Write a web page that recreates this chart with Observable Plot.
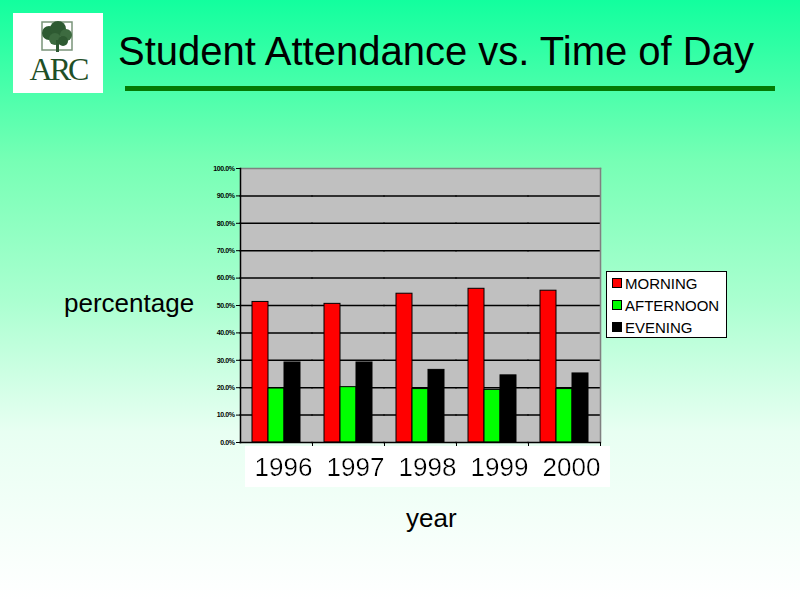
<!DOCTYPE html>
<html>
<head>
<meta charset="utf-8">
<script src="https://cdn.jsdelivr.net/npm/d3@7"></script>
<script src="https://cdn.jsdelivr.net/npm/@observablehq/plot@0.6"></script>
<style>
  html, body { margin: 0; padding: 0; }
  #slide {
    position: relative; width: 800px; height: 600px; overflow: hidden;
    background: linear-gradient(to bottom, #12ff9e 0%, #77ffb5 27%, #aaffd0 50%, #e8fff2 72%, #ffffff 100%);
    font-family: "Liberation Sans", Arial, sans-serif;
  }
  #logo { position: absolute; left: 13px; top: 13px; width: 90px; height: 80px; background: #fff; }
  #title { position: absolute; left: 118px; top: 27px; font-size: 40px; color: #000; white-space: nowrap; line-height: 48px; }
  #rule { position: absolute; left: 125px; top: 86px; width: 650px; height: 5px; background: #047a04; }
  #chart { position: absolute; left: 0; top: 0; }
  #ylabel { position: absolute; left: 64px; top: 287px; font-size: 26px; line-height: 32px; }
  #xlabel { position: absolute; left: 406px; top: 502px; font-size: 26px; line-height: 32px; }
  #legend { position: absolute; left: 606px; top: 271px; width: 119px; height: 65px; background: #fff; border: 1px solid #000; }
  #legend .item { position: absolute; left: 5px; height: 20px; font-size: 15px; line-height: 20px; white-space: nowrap; }
  #legend .sw { display: inline-block; width: 8px; height: 8px; border: 1px solid #000; margin-right: 3px; vertical-align: 1px; }
  [aria-label="fx-axis tick label"] text { filter: url(#wb); }
  [aria-label="y-axis tick label"] text { letter-spacing: -0.4px; font-weight: bold; }
</style>
</head>
<body>
<svg width="0" height="0" style="position:absolute">
  <defs>
    <filter id="wb" x="-0.15" y="-0.17" width="1.3" height="1.32">
      <feFlood flood-color="#ffffff"/>
      <feComposite in="SourceGraphic" operator="over"/>
    </filter>
  </defs>
</svg>
<div id="slide">
  <div id="logo">
    <svg width="90" height="80" viewBox="0 0 90 80">
      <rect x="29" y="9" width="30" height="28" fill="none" stroke="#7a947a" stroke-width="1.5"/>
      <circle cx="36" cy="20" r="7" fill="#2e5a32"/>
      <circle cx="45" cy="16" r="8" fill="#2e5a32"/>
      <circle cx="53" cy="22" r="6" fill="#3d6b40"/>
      <circle cx="42" cy="26" r="6" fill="#3d6b40"/>
      <circle cx="50" cy="28" r="5" fill="#2e5a32"/>
      <rect x="43" y="27" width="3" height="12" fill="#2e5a32"/>
      <text x="45" y="67" text-anchor="middle" font-family="Liberation Serif, serif" font-size="32" fill="#1f4f27" letter-spacing="-3">ARC</text>
    </svg>
  </div>
  <div id="title">Student Attendance vs. Time of Day</div>
  <div id="rule"></div>
  <div id="chart"></div>
  <div id="ylabel">percentage</div>
  <div id="xlabel">year</div>
  <div id="legend"></div>
</div>
<script>
const years = ["1996", "1997", "1998", "1999", "2000"];
const series = ["MORNING", "AFTERNOON", "EVENING"];
const colors = ["#ff0000", "#00ff00", "#000000"];
const morning = [0.513, 0.506, 0.543, 0.561, 0.554];
const afternoon = [0.197, 0.202, 0.195, 0.192, 0.195];
const evening = [0.292, 0.292, 0.265, 0.245, 0.252];
const yTicks = [0, 0.1, 0.2, 0.3, 0.4, 0.5, 0.6, 0.7, 0.8, 0.9, 1.0];

const values = [morning, afternoon, evening];
const data = [];
years.forEach((yr, i) => series.forEach((s, j) => data.push({year: yr, series: s, value: values[j][i]})));

const chart = Plot.plot({
  width: 800,
  height: 500,
  marginLeft: 239,
  marginRight: 200,
  marginTop: 168,
  marginBottom: 58,
  style: { background: "transparent", fontFamily: "Liberation Sans, Arial, sans-serif" },
  fx: { domain: years, padding: 0, label: null, axis: null },
  x: { domain: series, paddingInner: 0, paddingOuter: 0.71, axis: null },
  y: { domain: [0, 1], axis: null },
  color: { domain: series, range: colors },
  marks: [
    Plot.frame({ fill: "#c0c0c0", stroke: "none", insetLeft: -0.6, insetRight: -0.6 }),
    Plot.ruleY(yTicks.slice(1, -1), { stroke: "#000", strokeWidth: 1.5, insetLeft: -0.6, insetRight: -0.6 }),
    Plot.frame({ anchor: "top", stroke: "#808080", strokeWidth: 1.5, facet: "super" }),
    Plot.frame({ anchor: "right", stroke: "#808080", strokeWidth: 1.5, facet: "super" }),
    Plot.barY(data, { fx: "year", x: "series", y: "value", fill: "series", stroke: "#000", strokeWidth: 1 }),
    Plot.ruleY([0], { stroke: "#000", strokeWidth: 1.5, insetLeft: -0.6, insetRight: -0.6 }),
    Plot.frame({ anchor: "left", stroke: "#000", strokeWidth: 1.5, facet: "super" }),
    Plot.axisY({ ticks: yTicks, tickFormat: d3.format(".1%"), tickSize: 4, tickPadding: 2, fontSize: 7, label: null, stroke: "#000" }),
    Plot.axisFx({ anchor: "bottom", domain: years, tickSize: 5, dx: 36, text: null, label: null, stroke: "#000" }),
    Plot.axisFx({ anchor: "bottom", domain: years, tickSize: 0, tickPadding: 15, fontSize: 26, dx: 7, label: null, fill: "#000" })
  ]
});
document.getElementById("chart").appendChild(chart);

const legend = document.getElementById("legend");
series.forEach((s, i) => {
  const it = document.createElement("div");
  it.className = "item";
  it.style.top = (2 + i * 22) + "px";
  it.innerHTML = `<span class="sw" style="background:${colors[i]}"></span>${s}`;
  legend.appendChild(it);
});
</script>
</body>
</html>
